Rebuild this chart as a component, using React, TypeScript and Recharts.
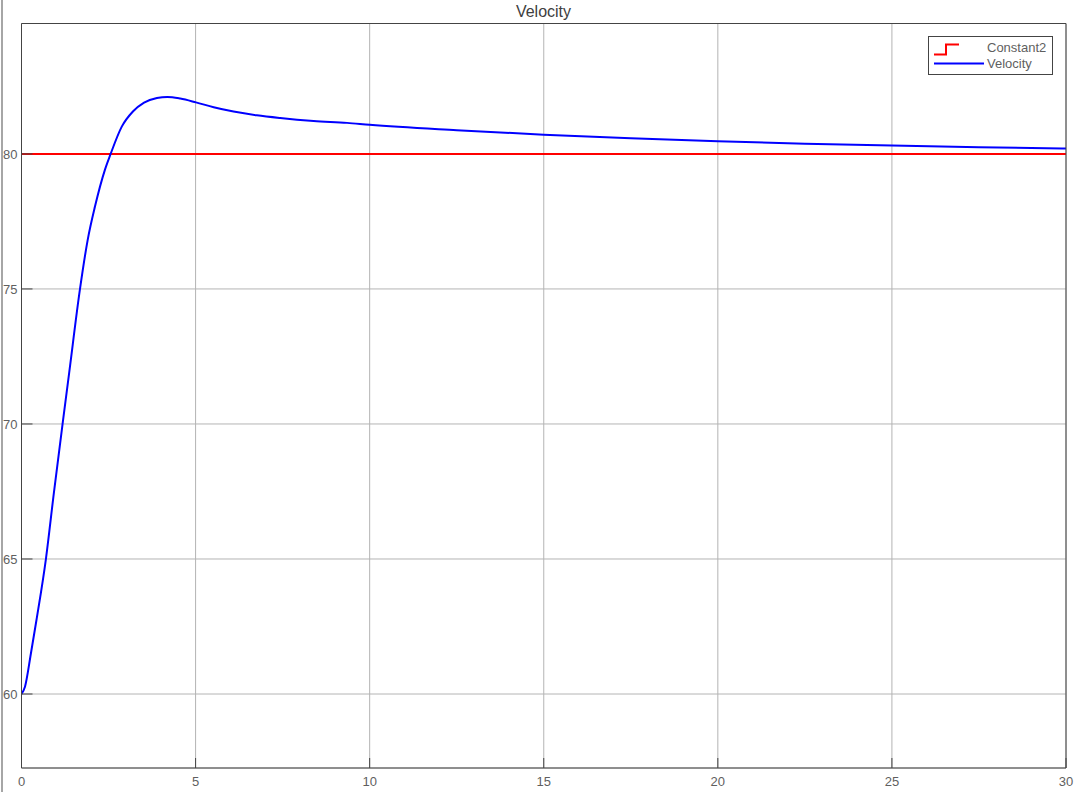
import { LineChart, Line, XAxis, YAxis, CartesianGrid, Legend } from "recharts";

// Simulink scope: step reference (Constant2) vs. vehicle velocity response
const time = [0, 0.1, 0.27, 0.43, 0.7, 0.93, 1.18, 1.37, 1.68, 1.9, 2.11, 2.4, 2.56, 2.88, 3.2, 3.52, 3.89, 4.19, 4.56, 5.01, 5.52, 6.09, 6.76, 7.43, 8.39, 9.35, 10, 12.5, 15, 17.5, 20, 22.5, 25, 27.5, 30];
const velocity = [60, 60.27, 61.5, 62.74, 64.99, 67.45, 70, 71.9, 75, 76.81, 78.05, 79.43, 80, 81.01, 81.57, 81.9, 82.07, 82.11, 82.05, 81.91, 81.73, 81.57, 81.43, 81.33, 81.22, 81.15, 81.08, 80.88, 80.71, 80.58, 80.47, 80.38, 80.31, 80.25, 80.2];
const constTime = [0, 30];
const constant2 = [80, 80];

const xTicks = [0, 5, 10, 15, 20, 25, 30];
const yTicks = [60, 65, 70, 75, 80];
const xDomain = [0, 30];
const yDomain = [57.26, 84.83];

const velocityRows = time.map((t, i) => ({ t, v: velocity[i] }));
const constRows = constTime.map((t, i) => ({ t, c: constant2[i] }));

const FRAME = "#444444";
const GRID = "#b4b4b4";
const TEXT = "#5f5f5f";
const FONT = "'Liberation Sans', Arial, sans-serif";

function ScopeLegend() {
  return (
    <div
      style={{
        width: 123,
        height: 37,
        border: `1px solid ${FRAME}`,
        background: "#fff",
        fontFamily: FONT,
        fontSize: 13,
        color: TEXT,
        position: "relative",
      }}
    >
      <svg width={60} height={37} style={{ position: "absolute", left: 0, top: 0 }}>
        <path d="M5 17.5 H17 V7.5 H30" stroke="#ff0000" strokeWidth={2} fill="none" />
        <line x1={5} y1={26.5} x2={55} y2={26.5} stroke="#0000ff" strokeWidth={2} />
      </svg>
      <div style={{ position: "absolute", left: 58, top: 3, lineHeight: "15px" }}>Constant2</div>
      <div style={{ position: "absolute", left: 58, top: 19, lineHeight: "15px" }}>Velocity</div>
    </div>
  );
}

export default function App() {
  return (
    <div style={{ position: "absolute", left: 0, top: 0, width: 1079, height: 792, background: "#fff" }}>
      <div style={{ position: "absolute", left: 1, top: 0, width: 2, height: 792, background: "#a6a6a6" }} />
      <div
        style={{
          position: "absolute",
          left: 21,
          width: 1045,
          top: 3,
          textAlign: "center",
          fontFamily: FONT,
          fontSize: 16,
          color: "#404040",
          lineHeight: "18px",
        }}
      >
        Velocity
      </div>
      <LineChart width={1079} height={792} margin={{ top: 0, right: 0, bottom: 0, left: 0 }}>
        <CartesianGrid stroke={GRID} strokeWidth={1} />
        <XAxis
          type="number"
          dataKey="t"
          domain={xDomain}
          ticks={xTicks}
          height={24}
          tickSize={-10}
          tickMargin={19}
          fontSize={13}
          tickLine={{ stroke: FRAME }}
          axisLine={{ stroke: FRAME }}
          tick={{ fontSize: 13, fill: TEXT, fontFamily: FONT }}
          allowDataOverflow
        />
        <XAxis
          xAxisId="top"
          orientation="top"
          type="number"
          dataKey="t"
          domain={xDomain}
          ticks={xTicks}
          height={23.5}
          tickSize={-10}
          tick={false}
          tickLine={{ stroke: FRAME }}
          axisLine={{ stroke: FRAME }}
          allowDataOverflow
        />
        <YAxis
          type="number"
          domain={yDomain}
          ticks={yTicks}
          width={21.5}
          tickSize={-11}
          tickMargin={15}
          fontSize={13}
          tickLine={{ stroke: FRAME }}
          axisLine={{ stroke: FRAME }}
          tick={{ fontSize: 13, fill: TEXT, fontFamily: FONT }}
          allowDataOverflow
        />
        <YAxis
          yAxisId="right"
          orientation="right"
          type="number"
          domain={yDomain}
          ticks={yTicks}
          width={13}
          tickSize={-11}
          tick={false}
          tickLine={{ stroke: FRAME }}
          axisLine={{ stroke: FRAME }}
          allowDataOverflow
        />
        <Legend
          layout="vertical"
          align="center"
          verticalAlign="middle"
          wrapperStyle={{ position: "absolute", left: 928, top: 36, width: 125, height: 39 }}
          content={() => <ScopeLegend />}
        />
        <Line
          data={constRows}
          type="linear"
          dataKey="c"
          name="Constant2"
          stroke="#ff0000"
          strokeWidth={2}
          dot={false}
          activeDot={false}
          isAnimationActive={false}
        />
        <Line
          data={velocityRows}
          type="monotone"
          dataKey="v"
          name="Velocity"
          stroke="#0000ff"
          strokeWidth={2}
          dot={false}
          activeDot={false}
          isAnimationActive={false}
        />
      </LineChart>
    </div>
  );
}
